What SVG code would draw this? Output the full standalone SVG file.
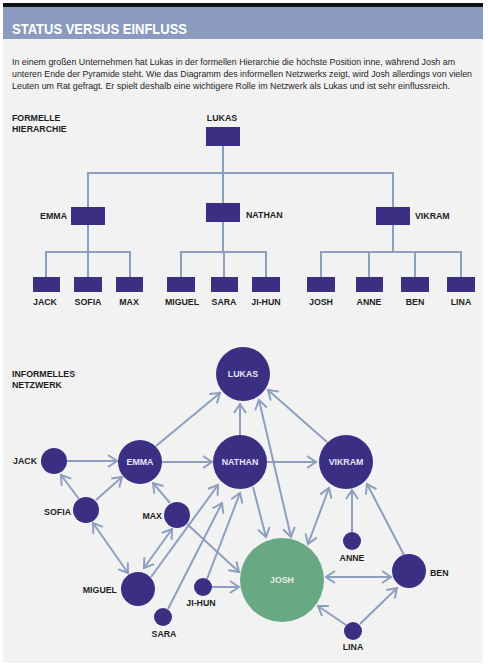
<svg xmlns="http://www.w3.org/2000/svg" width="488" height="668" viewBox="0 0 488 668">
<style>
.t{font-family:"Liberation Sans",Arial,sans-serif;fill:#1e1e1e}
.b{font-weight:bold;font-size:8.8px}
.w{font-family:"Liberation Sans",Arial,sans-serif;font-weight:bold;font-size:8.8px;fill:#e6e4f4;text-anchor:middle}
.box{fill:#3b2f84}
.n{fill:#3b2f84}
.ln{stroke:#8d9fbf;stroke-width:2;fill:none}
.e{stroke:#8d9fbf;stroke-width:2;fill:none;marker-end:url(#a)}
.d{stroke:#8d9fbf;stroke-width:2;fill:none;marker-end:url(#a);marker-start:url(#a)}
.m{text-anchor:middle}
.r{text-anchor:end}
</style>
<defs>
<marker id="a" viewBox="-11 -8 13 16" markerWidth="13" markerHeight="16" refX="0" refY="0" orient="auto-start-reverse" markerUnits="userSpaceOnUse">
<path d="M-9,-6 L0,0 L-9,6" fill="none" stroke="#8d9fbf" stroke-width="2"/>
</marker>
</defs>
<rect x="0" y="0" width="488" height="668" fill="#ffffff"/>
<rect x="3" y="3" width="480" height="660" fill="#f2f2f2"/>
<rect x="3" y="3" width="480" height="4" fill="#111111"/>
<rect x="3" y="7" width="480" height="32" fill="#8a9bbf"/>
<text x="12" y="34" font-family="Liberation Sans,Arial,sans-serif" font-size="15.5" font-weight="bold" fill="#ffffff" textLength="175" lengthAdjust="spacingAndGlyphs">STATUS VERSUS EINFLUSS</text>
<g class="t" font-size="8.6">
<text x="12" y="65" textLength="443" lengthAdjust="spacingAndGlyphs">In einem großen Unternehmen hat Lukas in der formellen Hierarchie die höchste Position inne, während Josh am</text>
<text x="12" y="77" textLength="460" lengthAdjust="spacingAndGlyphs">unteren Ende der Pyramide steht. Wie das Diagramm des informellen Netzwerks zeigt, wird Josh allerdings von vielen</text>
<text x="12" y="89" textLength="438" lengthAdjust="spacingAndGlyphs">Leuten um Rat gefragt. Er spielt deshalb eine wichtigere Rolle im Netzwerk als Lukas und ist sehr einflussreich.</text>
</g>

<g id="hierarchy-title" class="t b">
<text x="12" y="121">FORMELLE</text>
<text x="12" y="132">HIERARCHIE</text>
</g>

<g id="hierarchy-lines">
<path class="ln" d="M223,146 V173 M88,173 H394 M88,172 V207 M223,172 V203 M393,172 V207"/>
<path class="ln" d="M88,225 V252 M46,252 H130 M46,251 V277 M88,251 V277 M130,251 V277"/>
<path class="ln" d="M223,222 V252 M181,252 H267 M181,251 V277 M224,251 V277 M266,251 V277"/>
<path class="ln" d="M393,225 V252 M321,252 H461 M321,251 V277 M369,251 V277 M415,251 V277 M461,251 V277"/>
</g>

<g id="h-lukas"><rect class="box" x="206" y="127" width="34" height="19"/><text class="t b m" x="222" y="121">LUKAS</text></g>
<g id="h-emma"><rect class="box" x="71" y="207" width="34" height="18"/><text class="t b r" x="67" y="219">EMMA</text></g>
<g id="h-nathan"><rect class="box" x="206" y="203" width="34" height="19"/><text class="t b" x="246" y="218">NATHAN</text></g>
<g id="h-vikram"><rect class="box" x="376" y="207" width="34" height="18"/><text class="t b" x="415" y="219">VIKRAM</text></g>
<g id="h-jack"><rect class="box" x="33" y="277" width="27" height="15"/><text class="t b m" x="45" y="305">JACK</text></g>
<g id="h-sofia"><rect class="box" x="74" y="277" width="28" height="15"/><text class="t b m" x="88" y="305">SOFIA</text></g>
<g id="h-max"><rect class="box" x="116" y="277" width="27" height="15"/><text class="t b m" x="129" y="305">MAX</text></g>
<g id="h-miguel"><rect class="box" x="167" y="277" width="28" height="15"/><text class="t b m" x="182" y="305">MIGUEL</text></g>
<g id="h-sara"><rect class="box" x="211" y="277" width="27" height="15"/><text class="t b m" x="224" y="305">SARA</text></g>
<g id="h-jihun"><rect class="box" x="252" y="277" width="28" height="15"/><text class="t b m" x="266" y="305">JI-HUN</text></g>
<g id="h-josh"><rect class="box" x="307" y="277" width="28" height="15"/><text class="t b m" x="321" y="305">JOSH</text></g>
<g id="h-anne"><rect class="box" x="356" y="277" width="27" height="15"/><text class="t b m" x="369" y="305">ANNE</text></g>
<g id="h-ben"><rect class="box" x="401" y="277" width="28" height="15"/><text class="t b m" x="415" y="305">BEN</text></g>
<g id="h-lina"><rect class="box" x="447" y="277" width="28" height="15"/><text class="t b m" x="461" y="305">LINA</text></g>

<g id="network-title" class="t b">
<text x="12" y="377">INFORMELLES</text>
<text x="12" y="388">NETZWERK</text>
</g>

<g id="connectors">
<line class="e" x1="67" y1="461" x2="117" y2="461"/>
<line class="e" x1="162" y1="462" x2="212" y2="462"/>
<line class="e" x1="267" y1="462" x2="316" y2="462"/>
<line class="e" x1="156" y1="446" x2="220" y2="393"/>
<line class="e" x1="240" y1="435" x2="240" y2="404"/>
<line class="e" x1="327" y1="442" x2="268" y2="390"/>
<line class="e" x1="79" y1="499" x2="61" y2="475"/>
<line class="e" x1="96" y1="500" x2="122" y2="477"/>
<line class="d" x1="93" y1="523" x2="128" y2="573"/>
<line class="e" x1="170" y1="503" x2="153" y2="483"/>
<line class="d" x1="172" y1="529" x2="144" y2="568"/>
<line class="e" x1="187" y1="524" x2="239" y2="572"/>
<line class="e" x1="151" y1="577" x2="218" y2="485"/>
<line class="e" x1="168" y1="609" x2="222" y2="503"/>
<line class="e" x1="207" y1="579" x2="240" y2="493"/>
<line class="e" x1="212" y1="587" x2="239" y2="587"/>
<line class="e" x1="253" y1="487" x2="266" y2="537"/>
<line class="d" x1="259" y1="400" x2="291" y2="537"/>
<line class="d" x1="329" y1="488" x2="308" y2="544"/>
<line class="e" x1="352" y1="532" x2="352" y2="490"/>
<line class="e" x1="404" y1="555" x2="367" y2="484"/>
<line class="d" x1="326" y1="577" x2="391" y2="577"/>
<line class="e" x1="346" y1="625" x2="318" y2="606"/>
<line class="e" x1="360" y1="624" x2="397" y2="588"/>
</g>

<g id="n-lukas"><circle class="n" cx="243" cy="374" r="27"/><text class="w" x="243" y="377">LUKAS</text></g>
<g id="n-nathan"><circle class="n" cx="240" cy="462" r="27"/><text class="w" x="240" y="465">NATHAN</text></g>
<g id="n-vikram"><circle class="n" cx="346" cy="462" r="27"/><text class="w" x="346" y="465">VIKRAM</text></g>
<g id="n-emma"><circle class="n" cx="140" cy="462" r="22"/><text class="w" x="140" y="465">EMMA</text></g>
<g id="n-jack"><circle class="n" cx="54" cy="461" r="13"/><text class="t b r" x="37" y="464">JACK</text></g>
<g id="n-sofia"><circle class="n" cx="86" cy="510" r="13"/><text class="t b r" x="71" y="515">SOFIA</text></g>
<g id="n-max"><circle class="n" cx="177" cy="515" r="13"/><text class="t b r" x="162" y="519">MAX</text></g>
<g id="n-miguel"><circle class="n" cx="138" cy="589" r="17"/><text class="t b r" x="117" y="593">MIGUEL</text></g>
<g id="n-sara"><circle class="n" cx="163" cy="617" r="9"/><text class="t b m" x="164" y="637">SARA</text></g>
<g id="n-jihun"><circle class="n" cx="203" cy="587" r="9"/><text class="t b m" x="201" y="606">JI-HUN</text></g>
<g id="n-josh"><circle cx="282" cy="580" r="42" fill="#68a883"/><text class="w" x="282" y="583" style="fill:#e4efe6">JOSH</text></g>
<g id="n-anne"><circle class="n" cx="352" cy="541" r="9"/><text class="t b m" x="352" y="561">ANNE</text></g>
<g id="n-ben"><circle class="n" cx="409" cy="571" r="17"/><text class="t b" x="430" y="576">BEN</text></g>
<g id="n-lina"><circle class="n" cx="353" cy="631" r="9"/><text class="t b m" x="353" y="650">LINA</text></g>
</svg>
